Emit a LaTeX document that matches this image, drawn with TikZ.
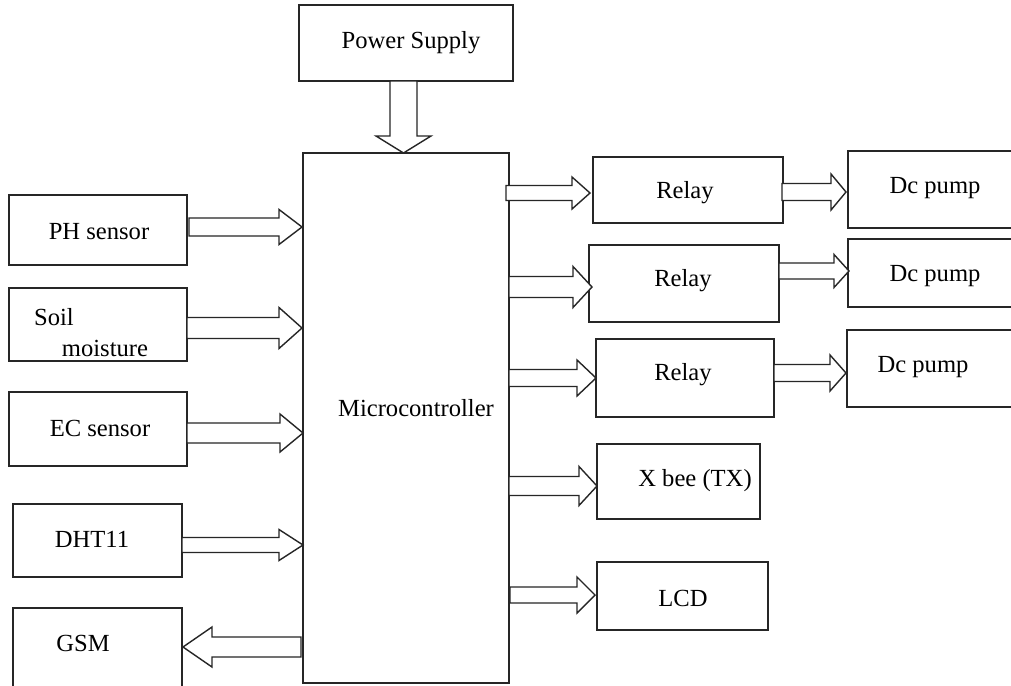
\documentclass[tikz,border=0pt]{standalone}
\usepackage{fontspec}
\setmainfont{Liberation Serif}
\usetikzlibrary{calc}
\tikzset{
  box/.style={draw=black!85, line width=1.6pt, rectangle, inner sep=0pt, outer sep=0pt, anchor=north west},
  lbl/.style={font=\fontsize{24.6}{29}\selectfont, inner sep=0pt, anchor=center, yshift=-3pt},
  blk/.style={draw=black!85, line width=1.4pt, fill=white, line join=miter}
}
% right-pointing block arrow: tail #1 (x), tip #2 (x,y); shaft half #3, head half #4, head length #5
\newcommand\rarr[5]{\draw[blk] let \p1=(#1), \p2=(#2) in
  (\x1,\y2+#3) -- (\x2-#5,\y2+#3) -- (\x2-#5,\y2+#4) -- (\x2,\y2) -- (\x2-#5,\y2-#4) -- (\x2-#5,\y2-#3) -- (\x1,\y2-#3) -- cycle;}
% left-pointing block arrow
\newcommand\larr[5]{\draw[blk] let \p1=(#1), \p2=(#2) in
  (\x1,\y2+#3) -- (\x2+#5,\y2+#3) -- (\x2+#5,\y2+#4) -- (\x2,\y2) -- (\x2+#5,\y2-#4) -- (\x2+#5,\y2-#3) -- (\x1,\y2-#3) -- cycle;}
% down-pointing block arrow: tail #1 (x,y), tip #2 (y)
\newcommand\darr[5]{\draw[blk] let \p1=(#1), \p2=(#2) in
  (\x1-#3,\y1) -- (\x1-#3,\y2+#5) -- (\x1-#4,\y2+#5) -- (\x1,\y2) -- (\x1+#4,\y2+#5) -- (\x1+#3,\y2+#5) -- (\x1+#3,\y1) -- cycle;}
\begin{document}
\begin{tikzpicture}[x=1pt, y=-1pt]
\useasboundingbox[fill=white] (0,0) rectangle (1011,685);
\clip (0,0) rectangle (1011,685);

% boxes
\node[box, minimum width=214, minimum height=76] (ps) at (299,5) {};
\node[box, minimum width=206, minimum height=530] (micro) at (303,153) {};
\node[box, minimum width=178, minimum height=70] (ph) at (9,195) {};
\node[box, minimum width=178, minimum height=73] (soil) at (9,288) {};
\node[box, minimum width=178, minimum height=74] (ec) at (9,392) {};
\node[box, minimum width=169, minimum height=73] (dht) at (13,504) {};
\node[box, minimum width=169, minimum height=90] (gsm) at (13,608) {};
\node[box, minimum width=190, minimum height=66] (r1) at (593,157) {};
\node[box, minimum width=190, minimum height=77] (r2) at (589,245) {};
\node[box, minimum width=178, minimum height=78] (r3) at (596,339) {};
\node[box, minimum width=163, minimum height=75] (xb) at (597,444) {};
\node[box, minimum width=171, minimum height=68] (lcd) at (597,562) {};
\node[box, minimum width=180, minimum height=77] (d1) at (848,151) {};
\node[box, minimum width=180, minimum height=68] (d2) at (848,239) {};
\node[box, minimum width=180, minimum height=77] (d3) at (847,330) {};

% labels
\node[lbl] (ps-t) at (411,40) {Power Supply};
\node[lbl] (micro-t) at (416,405) {Microcontroller};
\node[lbl] (ph-t) at (99,229) {PH sensor};
\node[lbl] (soil-t1) at (54,314) {Soil};
\node[lbl] (soil-t2) at (105,345) {moisture};
\node[lbl] (ec-t) at (100,425) {EC sensor};
\node[lbl] (dht-t) at (92,536) {DHT11};
\node[lbl] (gsm-t) at (83,640) {GSM};
\node[lbl] (r1-t) at (685,190) {Relay};
\node[lbl] (r2-t) at (683,278) {Relay};
\node[lbl] (r3-t) at (683,372) {Relay};
\node[lbl] (xb-t) at (695,478) {X bee (TX)};
\node[lbl] (lcd-t) at (683,595) {LCD};
\node[lbl] (d1-t) at (935,185) {Dc pump};
\node[lbl] (d2-t) at (935,273) {Dc pump};
\node[lbl] (d3-t) at (923,364) {Dc pump};

% power arrow
\darr{$(ps.south)+(-2.5,0)$}{micro.north}{13.5pt}{27.5pt}{17pt}

% sensor arrows
\rarr{$(ph.east)+(2,0)$}{$(ph.east -| micro.west)+(-1,-3)$}{9pt}{17.5pt}{23pt}
\rarr{soil.east}{$(soil.east -| micro.west)+(-1,3.5)$}{10.5pt}{20.5pt}{23pt}
\rarr{ec.east}{$(ec.east -| micro.west)+(0,4)$}{10pt}{19pt}{23pt}
\rarr{dht.east}{$(dht.east -| micro.west)+(0,4.5)$}{7.5pt}{15.5pt}{24pt}

% GSM arrow
\larr{$(micro.west)+(-2,0)$}{$(gsm.east)+(1,-6)$}{10pt}{20pt}{29pt}

% micro to relays etc.
\rarr{$(micro.east)+(-3,0)$}{$(r1.west)+(-3,3)$}{7.5pt}{16pt}{18pt}
\rarr{micro.east}{$(r2.west)+(3,3.5)$}{10.5pt}{20.5pt}{19pt}
\rarr{micro.east}{r3.west}{8.5pt}{18pt}{19pt}
\rarr{micro.east}{$(xb.west)+(0,4.5)$}{9.5pt}{19.5pt}{18pt}
\rarr{$(micro.east)+(1,0)$}{$(lcd.west)+(-2,-1)$}{8pt}{18pt}{18pt}

% relays to pumps
\rarr{$(r1.east)+(-1,0)$}{$(d1.west)+(-2,2.5)$}{8.5pt}{18pt}{15pt}
\rarr{r2.east}{$(d2.west)+(1,-2)$}{8pt}{16.5pt}{15pt}
\rarr{r3.east}{$(d3.west)+(-1,4.5)$}{8.5pt}{18pt}{16pt}
\end{tikzpicture}
\end{document}
